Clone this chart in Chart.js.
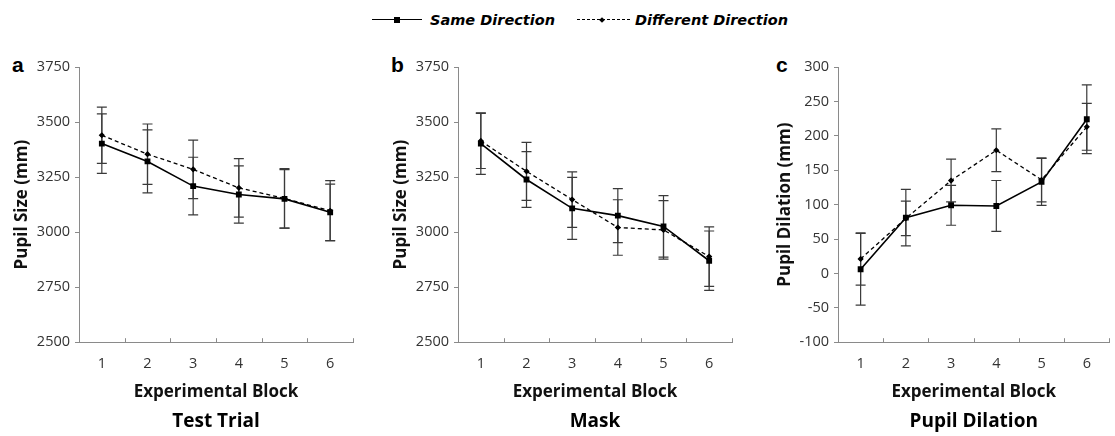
<!DOCTYPE html>
<html>
<head>
<meta charset="utf-8">
<script src="https://cdn.jsdelivr.net/npm/chart.js@4.4.1/dist/chart.umd.min.js"></script>
<style>
  body { margin: 0; background: #fff; width: 1115px; height: 436px; overflow: hidden; position: relative; font-family: "Open Sans", sans-serif; }
  canvas { position: absolute; top: 40px; }
  .letter { position: absolute; top: 54px; font: bold 21px "Liberation Sans", Arial, sans-serif; line-height: 21px; color: #000; }
  .leg-text { position: absolute; top: 9px; font: italic bold 14.5px "DejaVu Sans", sans-serif; line-height: 22px; color: #000; }
  .leg-line { position: absolute; top: 19px; height: 0; }
  .leg-mark { position: absolute; background: #000; }
</style>
</head>
<body>

<div class="leg-line" style="left:372px; width:50px; border-top:1.6px solid #000;"></div>
<div class="leg-mark" style="left:394px; top:17px; width:6px; height:6px;"></div>
<div class="leg-text" style="left:430px;">Same Direction</div>
<div class="leg-line" style="left:577px; width:53px; border-top:1.3px dashed #000;"></div>
<div class="leg-mark" style="left:600px; top:17.5px; width:4px; height:4px; transform:rotate(45deg);"></div>
<div class="leg-text" style="left:635px;">Different Direction</div>

<div class="letter" style="left:12px;">a</div>
<div class="letter" style="left:391px;">b</div>
<div class="letter" style="left:776px;">c</div>

<canvas id="chartA" width="370" height="396" style="left:0px"></canvas>
<canvas id="chartB" width="366" height="396" style="left:379px"></canvas>
<canvas id="chartC" width="352" height="396" style="left:763px"></canvas>

<script>
// experimental blocks (x categories)
const blocks = ['1', '2', '3', '4', '5', '6'];

// a: Test Trial (pupil size)
const testSame = [3402, 3321, 3209, 3171, 3151, 3090];
const testSameErr = [135, 143, 131, 130, 133, 128];
const testDiff = [3440, 3354, 3285, 3201, 3153, 3097];
const testDiffErr = [128, 137, 133, 133, 135, 137];

// b: Mask (pupil size)
const maskSame = [3402, 3239, 3108, 3075, 3026, 2870];
const maskSameErr = [140, 127, 141, 123, 140, 135];
const maskDiff = [3414, 3276, 3148, 3021, 3010, 2889];
const maskDiffErr = [125, 132, 126, 126, 133, 135];

// c: Pupil Dilation
const dilSame = [6, 81, 99, 98, 133, 224];
const dilSameErr = [52, 41, 29, 37, 34, 50];
const dilDiff = [21, 80, 135, 179, 136, 213];
const dilDiffErr = [38, 25, 31, 31, 32, 34];

const axisGrey = '#8a8a8a';

// vertical error bars with caps, drawn from dataset.errorBars
const errorBarPlugin = {
    id: 'errorBars',
    beforeDatasetsDraw(chart) {
        const ctx = chart.ctx;
        const yScale = chart.scales.y;
        chart.data.datasets.forEach(function(ds, di) {
            const meta = chart.getDatasetMeta(di);
            ctx.save();
            ctx.strokeStyle = '#3a3a3a';
            ctx.lineWidth = 1.2;
            meta.data.forEach(function(pt, i) {
                const v = ds.data[i], e = ds.errorBars[i];
                const top = yScale.getPixelForValue(v + e);
                const bot = yScale.getPixelForValue(v - e);
                ctx.beginPath();
                ctx.moveTo(pt.x, top); ctx.lineTo(pt.x, bot);
                ctx.moveTo(pt.x - 5, top); ctx.lineTo(pt.x + 5, top);
                ctx.moveTo(pt.x - 5, bot); ctx.lineTo(pt.x + 5, bot);
                ctx.stroke();
            });
            ctx.restore();
        });
    }
};

// small tick marks pointing up from the x axis, between categories
const innerTicksPlugin = {
    id: 'innerTicks',
    afterDraw(chart) {
        const x = chart.scales.x;
        const ctx = chart.ctx;
        const half = (x.getPixelForValue(1) - x.getPixelForValue(0)) / 2;
        const start = x.getPixelForValue(0) - half;
        ctx.save();
        ctx.strokeStyle = axisGrey;
        ctx.lineWidth = 1;
        for (let i = 0; i <= blocks.length; i++) {
            const px = Math.round(start + i * 2 * half) + 0.5;
            ctx.beginPath();
            ctx.moveTo(px, x.top);
            ctx.lineTo(px, x.top - 4);
            ctx.stroke();
        }
        ctx.restore();
    }
};

function makePanel(id, same, sameErr, diff, diffErr, yMin, yMax, step, yTitle, title, yWidth, padRight) {
    new Chart(document.getElementById(id), {
        type: 'line',
        data: {
            labels: blocks,
            datasets: [{
                label: 'Same Direction',
                data: same,
                errorBars: sameErr,
                borderColor: '#000',
                backgroundColor: '#000',
                borderWidth: 1.6,
                pointStyle: 'rect',
                pointRadius: 3,
                tension: 0
            }, {
                label: 'Different Direction',
                data: diff,
                errorBars: diffErr,
                borderColor: '#000',
                backgroundColor: '#000',
                borderWidth: 1.3,
                borderDash: [4, 3],
                pointStyle: 'rectRot',
                pointRadius: 2.2,
                tension: 0
            }]
        },
        options: {
            responsive: false,
            animation: false,
            devicePixelRatio: 1,
            layout: { padding: { top: 27, right: padRight, left: 0, bottom: 0 } },
            plugins: {
                legend: { display: false },
                tooltip: { enabled: false },
                title: {
                    display: true,
                    text: title,
                    position: 'bottom',
                    fullSize: false,
                    color: '#000',
                    font: { family: 'Open Sans', size: 19, weight: 'bold' },
                    padding: { top: 0, bottom: 3 }
                }
            },
            scales: {
                x: {
                    offset: true,
                    grid: { display: false },
                    border: { color: axisGrey, width: 1 },
                    ticks: { color: '#333', padding: 5, font: { family: 'Open Sans', size: 14.5 } },
                    title: {
                        display: true,
                        text: 'Experimental Block',
                        color: '#111',
                        font: { family: 'Open Sans', size: 17, weight: 'bold' },
                        padding: { top: 0, bottom: 8 }
                    },
                    afterFit(scale) { scale.height = 68; }
                },
                y: {
                    min: yMin,
                    max: yMax,
                    grid: { drawOnChartArea: false, tickLength: 4, color: axisGrey },
                    border: { color: axisGrey, width: 1 },
                    ticks: {
                        stepSize: step,
                        color: '#333',
                        padding: 5,
                        font: { family: 'Open Sans', size: 14.5 },
                        callback: function(v) { return v; }
                    },
                    title: {
                        display: true,
                        text: yTitle,
                        color: '#111',
                        font: { family: 'Open Sans', size: 17, weight: 'bold' },
                        padding: { top: 12, bottom: 0 }
                    },
                    afterFit(scale) { scale.width = yWidth; }
                }
            }
        },
        plugins: [errorBarPlugin, innerTicksPlugin]
    });
}

makePanel('chartA', testSame, testSameErr, testDiff, testDiffErr, 2500, 3750, 250, 'Pupil Size (mm)', 'Test Trial', 79, 17);
makePanel('chartB', maskSame, maskSameErr, maskDiff, maskDiffErr, 2500, 3750, 250, 'Pupil Size (mm)', 'Mask', 79, 13);
makePanel('chartC', dilSame, dilSameErr, dilDiff, dilDiffErr, -100, 300, 50, 'Pupil Dilation (mm)', 'Pupil Dilation', 75, 1);
</script>
</body>
</html>
